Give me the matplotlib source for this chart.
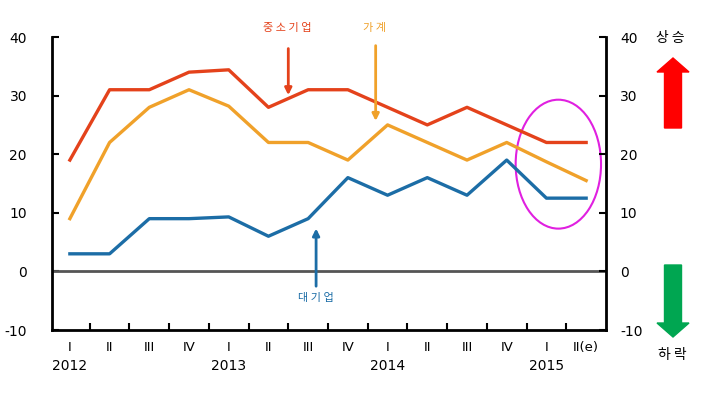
import numpy as np
import matplotlib.pyplot as plt
from matplotlib.patches import FancyArrow, Ellipse

plt.rcParams['font.family'] = ['DejaVu Sans', 'Noto Sans CJK KR']
plt.rcParams['axes.unicode_minus'] = False

quarters = ['I', 'II', 'III', 'IV', 'I', 'II', 'III', 'IV', 'I', 'II', 'III', 'IV', 'I', 'II(e)']
years = ['2012', '2013', '2014', '2015']
sme = [19, 31, 31, 34, 34.4, 28, 31, 31, 28, 25, 28, 25, 22, 22]          # 중소기업
household = [9, 22, 28, 31, 28.2, 22, 22, 19, 25, 22, 19, 22, 18.7, 15.5]  # 가계
large = [3, 3, 9, 9, 9.3, 6, 9, 16, 13, 16, 13, 19, 12.5, 12.5]          # 대기업

red = '#E4421B'
orange = '#F0A12A'
blue = '#1C6DA6'

fig = plt.figure(figsize=(7.11, 3.93), dpi=100)
ax = fig.add_axes([52/711, 63/393, 554/711, 293/393])
x = np.arange(len(quarters))

ax.axhline(0, color='#555555', lw=2)
ax.plot(x, sme, color=red, lw=2.4)
ax.plot(x, household, color=orange, lw=2.4)
ax.plot(x, large, color=blue, lw=2.4)

ax.set_xlim(-0.45, 13.5)
ax.set_ylim(-10, 40)
ax.set_yticks([-10, 0, 10, 20, 30, 40])
ax.set_xticks(x[:-1] + 0.5)
ax.set_xticklabels([])
ax.tick_params(axis='x', direction='in', length=5, width=1.5)
ax.tick_params(axis='y', direction='in', length=5, width=1.5, labelsize=10, pad=18)
ax.spines['top'].set_visible(False)
ax.spines['left'].set_linewidth(2)
ax.spines['bottom'].set_linewidth(2)
ax.spines['right'].set_linewidth(2)

ax2 = ax.twinx()
ax2.set_ylim(-10, 40)
ax2.set_yticks([-10, 0, 10, 20, 30, 40])
ax2.tick_params(axis='y', direction='in', length=5, width=1.5, labelsize=10, pad=10)
for s in ['top', 'left', 'bottom']:
    ax2.spines[s].set_visible(False)

for i, q in enumerate(quarters):
    ax.text(i, -13, q, ha='center', va='center', fontsize=9.5, family='DejaVu Sans')
for j, yr in enumerate(years):
    ax.text(4 * j, -16.2, yr, ha='center', va='center', fontsize=10)

# series labels with arrows
kr = 'Noto Sans CJK KR'
ax.annotate('', xy=(5.5, 29.6), xytext=(5.5, 38.5),
            arrowprops=dict(arrowstyle='-|>', color=red, lw=2, mutation_scale=10))
ax.text(5.47, 41.5, '중 소 기 업', color=red, ha='center', va='center', fontsize=8, family=kr)
ax.annotate('', xy=(7.7, 25.2), xytext=(7.7, 39),
            arrowprops=dict(arrowstyle='-|>', color=orange, lw=2, mutation_scale=10))
ax.text(7.68, 41.5, '가 계', color=orange, ha='center', va='center', fontsize=8, family=kr)
ax.annotate('', xy=(6.2, 7.8), xytext=(6.2, -3.0),
            arrowprops=dict(arrowstyle='-|>', color=blue, lw=2, mutation_scale=10))
ax.text(6.2, -4.5, '대 기 업', color=blue, ha='center', va='center', fontsize=8, family=kr)

ax.add_patch(Ellipse((12.3, 18.3), 2.15, 22.0, fill=False, edgecolor='#E020E0', lw=1.5,
                     clip_on=False))

# up / down arrows on the right
fig.patches.append(FancyArrow(6.73, 2.65, 0, 0.56, width=0.17, head_width=0.32,
                              head_length=0.14, length_includes_head=False,
                              color='#FF0000', transform=fig.dpi_scale_trans))
fig.patches.append(FancyArrow(6.73, 1.28, 0, -0.58, width=0.17, head_width=0.32,
                              head_length=0.14, length_includes_head=False,
                              color='#00A651', transform=fig.dpi_scale_trans))
fig.text(670/711, 1 - 38/393, '상 승', ha='center', va='center', fontsize=10, family=kr)
fig.text(672/711, 1 - 355/393, '하 락', ha='center', va='center', fontsize=10, family=kr)

fig.savefig('out.png', dpi=100)
